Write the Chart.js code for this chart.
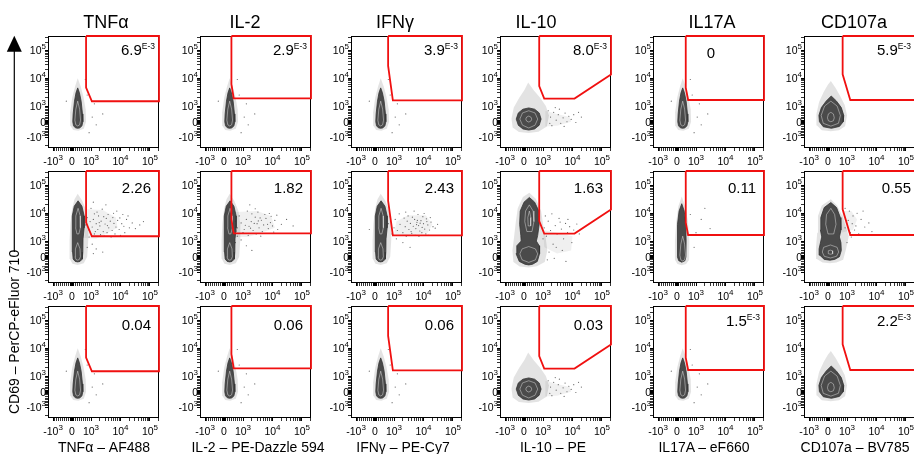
<!DOCTYPE html>
<html><head><meta charset="utf-8">
<script src="https://cdn.jsdelivr.net/npm/chart.js@4.4.1/dist/chart.umd.min.js"></script>
<style>
html,body{margin:0;padding:0;background:#fff;}
#wrap{position:relative;width:914px;height:454px;overflow:hidden;background:#fff;font-family:'Liberation Sans',Arial,sans-serif;}
#wrap canvas{position:absolute;}
#wrap svg{position:absolute;left:0;top:0;}
</style></head><body><div id="wrap"></div>
<script>
// ---------------- DATA ----------------
const COL_TITLES = ['TNFα', 'IL-2', 'IFNγ', 'IL-10', 'IL17A', 'CD107a'];
const X_TITLES = ['TNFα – AF488', 'IL-2 – PE-Dazzle 594', 'IFNγ – PE-Cy7', 'IL-10 – PE', 'IL17A – eF660', 'CD107a – BV785'];
const Y_TITLE = 'CD69 – PerCP-eFluor 710';

const TICK_VALUES = [-1000, 0, 1000, 10000, 100000];
const TICK_BASE = ['-10', '0', '10', '10', '10'];
const TICK_EXP = ['3', '', '3', '4', '5'];
const MINOR_DECADES = [10, 100, 1000, 10000, 100000];
const MINOR_MULT = [1, 2, 3, 4, 5, 6, 7, 8, 9];

// axis extents (fluorescence units) and linear-zone width (decades)
const X_AXIS = {min: -1480, max: 202000, lin: 0.644};
const Y_AXIS = {min: -2400, max: 330000, lin: 0.564};

// frequencies in gate (mantissa, exponent)
const PCT_ROW1 = ['6.9', '2.9', '3.9', '8.0', '0', '5.9'];
const EXP_ROW1 = ['E-3', 'E-3', 'E-3', 'E-3', '', 'E-3'];
const PCT_ROW2 = ['2.26', '1.82', '2.43', '1.63', '0.11', '0.55'];
const EXP_ROW2 = ['', '', '', '', '', ''];
const PCT_ROW3 = ['0.04', '0.06', '0.06', '0.03', '1.5', '2.2'];
const EXP_ROW3 = ['', '', '', '', 'E-3', 'E-3'];

// gates [x, y]
const gateTNFa = [[740, 330000], [740, 4650], [1070, 1490], [202000, 1490], [202000, 330000]];
const gateIL2 = [[390, 330000], [390, 6070], [510, 1900], [202000, 1900], [202000, 330000]];
const gateIFNg = [[690, 330000], [690, 27800], [940, 1610], [202000, 1610], [202000, 330000]];
const gateIL10 = [[800, 330000], [800, 5190], [1100, 1860], [11700, 1860], [202000, 13700], [202000, 330000]];
const gateIL17A = [[460, 330000], [460, 4620], [585, 1650], [202000, 1650], [202000, 330000]];
const gateCD107a = [[770, 330000], [770, 13900], [1290, 1650], [202000, 1650], [202000, 330000]];

// resting, narrow population
const narrowHalo = [[300, 10000], [460, 5000], [600, 2200], [720, 800], [740, 0], [620, -440], [330, -580], [60, -520], [-100, -220], [-100, 600], [10, 2000], [160, 5000]];
const narrowCore = [[300, 4500], [390, 3000], [480, 1500], [550, 500], [570, 0], [520, -260], [420, -390], [300, -420], [180, -390], [80, -260], [40, 0], [60, 500], [130, 1500], [210, 3000]];
const narrowRing = [[300, 1500], [400, 800], [450, 100], [400, -200], [300, -270], [200, -200], [150, 100], [200, 800]];
const narrowDots = [[1100, 300], [1500, -200], [2500, 500], [800, 2500], [900, -700], [-300, 1500], [1300, 1200], [700, 9000]];

// stimulated, tall population
const tallHalo = [[300, 50000], [540, 28000], [760, 12000], [860, 4000], [860, 1200], [800, 0], [620, -420], [300, -520], [20, -450], [-110, -150], [-130, 1000], [-90, 4000], [0, 14000], [130, 32000]];
const tallCore = [[320, 28000], [520, 18000], [640, 8000], [640, 3000], [580, 1200], [570, 300], [540, -150], [420, -300], [300, -330], [170, -300], [60, -150], [30, 300], [20, 1200], [0, 3000], [20, 8000], [120, 18000]];
const tallRingLow = [[300, 900], [420, 500], [440, 0], [380, -180], [300, -220], [210, -180], [160, 0], [180, 500]];
const tallRingUp = [[320, 15000], [430, 8000], [440, 3000], [360, 1800], [260, 1800], [190, 3000], [200, 8000]];
const tnfHaze = [[650, 1300], [1500, 1200], [3500, 1900], [8000, 3000], [7000, 7000], [2500, 13000], [800, 14000]];
const il2Haze = [[500, 1400], [1500, 1400], [5000, 2100], [12000, 3000], [9000, 8000], [3000, 12000], [600, 11000]];
const ifnHaze = [[1000, 1700], [4000, 1600], [14000, 2000], [20000, 4000], [12000, 8500], [3000, 8500], [1200, 5000]];
const tnfDots = [[900, 2500], [1100, 3200], [1300, 1800], [1500, 4200], [1200, 6000], [1700, 2600], [2000, 3500], [2200, 5200], [1800, 8000], [2600, 2200], [3000, 4100], [3300, 6500], [2800, 1500], [4000, 3000], [4500, 5200], [3800, 9000], [5200, 2400], [6000, 4300], [7000, 3200], [5500, 7000], [8000, 5500], [9000, 2600], [11000, 4200], [13000, 3400], [16000, 6000], [20000, 3000], [25000, 4500], [32000, 2800], [45000, 3800], [12000, 9000], [7500, 12000], [2400, 14000], [1600, 11000], [1000, 15000], [950, 5000], [1400, 2200], [2100, 1700], [3500, 2000], [1300, 9500], [2700, 7500], [4800, 1400], [6500, 1800], [10000, 1600], [1900, 4600], [3600, 3600], [900, 1400], [1100, 800], [1500, 500], [2500, 300], [800, 600], [1200, 200], [700, 3800], [800, 7000], [14000, 2000], [18000, 8000], [9500, 6800], [5800, 10000], [3200, 20000], [1200, 25000], [60000, 5000]];
const il2Dots = [[700, 3000], [900, 4500], [1100, 2600], [1300, 6000], [1600, 3400], [1900, 5000], [2200, 2400], [2600, 7200], [3000, 4200], [3500, 3000], [4200, 5600], [5000, 3800], [6000, 6500], [7200, 2800], [8500, 4600], [10000, 3500], [12000, 5500], [15000, 2600], [2000, 9500], [1400, 12000], [800, 8000], [3200, 11000], [5500, 9000], [1000, 2000], [1500, 1600], [2800, 1800], [4500, 2200], [700, 1500], [600, 5200], [1200, 3700], [2400, 4300], [3800, 6800], [6800, 4000], [9000, 7800], [20000, 4000], [30000, 6000], [50000, 3500], [1700, 20000], [900, 1100], [1300, 700], [2000, 400], [600, 900], [11000, 2100], [2600, 14500], [4000, 1500], [1800, 2900], [650, 2300], [3300, 5300], [7800, 9800], [14000, 8500]];
const ifnDots = [[1000, 3000], [1300, 2400], [1600, 4000], [2000, 2000], [2400, 3300], [2800, 5200], [3200, 2600], [3600, 4300], [4000, 1900], [4500, 3400], [5000, 6000], [5500, 2800], [6000, 4700], [6800, 3600], [7500, 2300], [8200, 5400], [9000, 3100], [10000, 4200], [11000, 2700], [12500, 6300], [14000, 3800], [16000, 2500], [18000, 4800], [21000, 3300], [25000, 2900], [3000, 8000], [6500, 9000], [9500, 7500], [4200, 7200], [2200, 6700], [1500, 9500], [5200, 1600], [7000, 1500], [12000, 1800], [3800, 2200], [5800, 3900], [8800, 2000], [13000, 5000], [2600, 1500], [1100, 6000], [900, 1800], [1200, 1200], [2000, 900], [3500, 600], [700, 4200], [800, 7500], [17000, 7000], [30000, 4000], [-300, 2600], [4800, 12000], [2500, 11000], [10500, 9800], [6200, 5500], [15000, 1600], [7700, 4400]];

// IL17A stimulated
const il17TallHalo = [[250, 40000], [430, 18000], [580, 5000], [650, 1000], [640, -200], [480, -470], [250, -540], [20, -470], [-110, -200], [-110, 1000], [-40, 5000], [70, 18000]];
const il17TallCore = [[250, 22000], [380, 12000], [460, 4000], [480, 1000], [470, 0], [420, -250], [250, -350], [90, -250], [20, 0], [10, 1000], [40, 4000], [110, 12000]];
const il17Dots = [[1000, 2000], [1500, 6000], [3000, 2800], [700, 9000], [2000, 15000], [900, 600]];

// IL-10 round population
const il10Halo = [[220, 7000], [500, 3800], [850, 2000], [1250, 1000], [1600, 400], [1350, -300], [760, -640], [250, -720], [-270, -660], [-600, -360], [-660, 200], [-540, 900], [-250, 2000], [20, 3800]];
const il10Core = [[250, 880], [560, 800], [800, 560], [900, 170], [800, -220], [560, -460], [250, -530], [-60, -460], [-300, -220], [-410, 170], [-300, 560], [-60, 800]];
const il10Ring1 = [[250, 700], [580, 560], [720, 170], [580, -220], [250, -400], [-80, -220], [-220, 170], [-80, 560]];
const il10Ring2 = [[250, 360], [360, 300], [410, 170], [360, 40], [250, -20], [140, 40], [90, 170], [140, 300]];
const il10TailHaze = [[1200, 700], [3000, 500], [8000, 300], [9000, 0], [3000, -250], [1200, -300]];
const il10TailDots = [[1800, 300], [2300, 600], [2800, 100], [3300, 450], [4000, -100], [4800, 250], [5600, 550], [6500, 0], [7500, 350], [9000, 150], [11000, 450], [13000, -50], [2000, -250], [2600, 900], [3600, 800], [1500, 700], [1700, -100], [5200, -300], [20000, 300], [16000, 600]];

// IL-10 stimulated (two lobes)
const il10StimHalo = [[280, 55000], [620, 33000], [900, 12000], [1050, 3000], [1250, 1200], [1400, 400], [1150, -330], [680, -600], [250, -680], [-230, -620], [-560, -340], [-610, 400], [-520, 1500], [-430, 5000], [-330, 15000], [-60, 38000]];
const il10StimCore = [[280, 37000], [560, 25000], [780, 12000], [800, 4000], [720, 1600], [650, 1000], [800, 700], [820, 200], [700, -300], [450, -480], [250, -520], [50, -480], [-250, -300], [-420, 200], [-380, 700], [-150, 1000], [-170, 1600], [-230, 4000], [-200, 12000], [0, 25000]];
const il10StimRingLow = [[250, 650], [600, 500], [720, 180], [600, -200], [250, -360], [-100, -200], [-220, 180], [-100, 500]];
const il10StimRingUp = [[280, 20000], [480, 12000], [520, 5000], [420, 2200], [150, 2200], [40, 5000], [80, 12000]];
const il10StimRingIn = [[280, 12000], [360, 7000], [350, 3500], [220, 3500], [200, 7000]];
const il10StimHaze = [[1000, 2500], [3000, 2000], [10000, 1500], [9000, 400], [3000, 200], [1100, 600]];
const il10Dots = [[1100, 3000], [1300, 1500], [1500, 5200], [1800, 2400], [2200, 800], [2600, 3600], [3000, 1800], [3500, 6500], [4200, 2700], [5000, 1200], [5800, 4300], [6800, 2000], [8000, 3300], [9500, 900], [11000, 2500], [14000, 4100], [1200, 8000], [2000, 9500], [2800, 600], [4500, 400], [7000, 6000], [1600, 300], [1000, 1200], [3800, 4800], [17000, 1800], [1400, -200], [2400, -100], [6000, -300]];

// CD107a round population
const cdHalo = [[150, 8000], [400, 4500], [640, 2300], [880, 1100], [1000, 400], [900, -280], [580, -540], [150, -600], [-330, -540], [-580, -240], [-610, 500], [-470, 1400], [-230, 3200], [0, 6000]];
const cdCore = [[170, 2300], [450, 1500], [700, 900], [830, 400], [800, 0], [600, -300], [180, -420], [-250, -320], [-450, 0], [-480, 400], [-350, 900], [-100, 1500]];
const cdRing1 = [[150, 1500], [480, 1000], [650, 400], [550, -100], [150, -280], [-250, -100], [-360, 400], [-180, 1000]];
const cdRing2 = [[150, 600], [280, 500], [330, 250], [280, 60], [150, 0], [20, 60], [-30, 250], [20, 500]];

// CD107a stimulated (two lobes)
const cdStimHalo = [[150, 32000], [480, 19000], [760, 8000], [950, 3000], [1150, 1500], [950, 500], [800, -200], [440, -370], [100, -410], [-290, -370], [-590, -150], [-630, 600], [-570, 2000], [-530, 8000], [-330, 19000]];
const cdStimCore = [[150, 24300], [450, 16000], [650, 7000], [680, 2500], [600, 1400], [680, 900], [700, 400], [600, 0], [350, -170], [100, -220], [-200, -170], [-430, 100], [-470, 500], [-380, 1000], [-330, 1400], [-400, 2500], [-380, 7000], [-200, 16000]];
const cdStimRingLow = [[130, 750], [480, 600], [560, 300], [450, 30], [130, -80], [-200, 30], [-300, 300], [-230, 600]];
const cdStimRingIn = [[130, 420], [230, 380], [260, 280], [230, 190], [130, 160], [30, 190], [0, 280], [30, 380]];
const cdStimRingUp = [[150, 15000], [350, 9000], [420, 4000], [300, 1800], [0, 1800], [-120, 4000], [-80, 9000]];
const cdStimHaze = [[700, 2000], [1600, 2500], [2200, 6000], [1400, 12000], [750, 12000]];
const cdStimDots = [[900, 3000], [1100, 5500], [1300, 2000], [1600, 8000], [2000, 3500], [1200, 12000], [2500, 1800], [3000, 6000], [1800, 2500], [4000, 3200], [900, 15000], [1400, 1400], [5500, 4500], [2200, 10000], [7000, 2200], [1000, 900], [3500, 12000], [1500, 4200]];

// ---------------- LAYOUT ----------------
const PLOT_LEFT = [48, 200, 351, 500, 653, 804];
const PLOT_TOP = [36, 171, 306];
const PW = 111, PH = 112, AX_W = 40, AX_H = 26, PAD = 4;
const TITLE_X = [106, 245, 395, 536, 712, 854];
const XTITLE_X = [104, 258, 403, 553, 704, 855];
const PCT_INSET = [[4, 4, 4, 4, 49, 4], [8, 8, 8, 8, 8, 4], [8, 8, 8, 8, 4, 4]];
const PCT_BASE = [[18.5, 18.5, 18.5, 18.5, 22, 18.5], [22, 22, 22, 22, 22, 22], [23.5, 23.5, 23.5, 23.5, 20, 20]];

// ---------------- SCALE ----------------
class BiexScale extends Chart.LinearScale {
  params() { return this.axis === 'x' ? X_AXIS : Y_AXIS; }
  tf(v) {
    const L = this.params().lin, a = Math.abs(v);
    const t = a <= 1000 ? a / 1000 * L : L + Math.log10(a / 1000);
    return v < 0 ? -t : t;
  }
  itf(t) {
    const L = this.params().lin, a = Math.abs(t);
    const v = a <= L ? a / L * 1000 : 1000 * Math.pow(10, a - L);
    return t < 0 ? -v : v;
  }
  determineDataLimits() { const p = this.params(); this.min = p.min; this.max = p.max; }
  buildTicks() {
    const list = [];
    TICK_VALUES.forEach(v => list.push({value: v, major: true}));
    MINOR_DECADES.forEach(d => MINOR_MULT.forEach(m => {
      [m * d, -m * d].forEach(v => {
        if (TICK_VALUES.indexOf(v) < 0 && v > this.min && v < this.max) list.push({value: v, major: false});
      });
    }));
    list.sort((a, b) => a.value - b.value);
    return list;
  }
  configure() { super.configure(); this._t0 = this.tf(this.min); this._t1 = this.tf(this.max); }
  getPixelForValue(v) { return this.getPixelForDecimal((this.tf(v) - this._t0) / (this._t1 - this._t0)); }
  getValueForPixel(p) { return this.itf(this._t0 + this.getDecimalForPixel(p) * (this._t1 - this._t0)); }
}
BiexScale.id = 'biex';
BiexScale.defaults = {};
Chart.register(BiexScale);

const FONT = "'Liberation Sans', Arial, sans-serif";

const panelPlugin = {
  id: 'panel',
  beforeDatasetsDraw(chart) {
    const {ctx, chartArea: a} = chart;
    ctx.save();
    ctx.strokeStyle = '#000'; ctx.lineWidth = 1;
    ctx.strokeRect(a.left + 0.5, a.top + 0.5, a.right - a.left - 1, a.bottom - a.top - 1);
    ctx.restore();
  },
  afterDraw(chart, args, opts) {
    const {ctx, chartArea: a} = chart;
    const xs = chart.scales.x, ys = chart.scales.y;
    ctx.save();
    ctx.fillStyle = '#000';
    ctx.textBaseline = 'alphabetic';
    ctx.textAlign = 'left';
    TICK_VALUES.forEach((v, i) => {
      const base = TICK_BASE[i], exp = TICK_EXP[i];
      ctx.font = '10.5px ' + FONT; const wb = ctx.measureText(base).width;
      ctx.font = '8px ' + FONT; const we = exp ? ctx.measureText(exp).width : 0;
      const py = ys.getPixelForValue(v);
      const r = a.left - 2;
      ctx.font = '10.5px ' + FONT; ctx.fillText(base, r - wb - we, py + 3.8);
      if (exp) { ctx.font = '8px ' + FONT; ctx.fillText(exp, r - we, py - 1.5); }
      const px = xs.getPixelForValue(v);
      const x0 = px - (wb + we) / 2;
      const by = a.bottom + 16.7;
      ctx.font = '10.5px ' + FONT; ctx.fillText(base, x0, by);
      if (exp) { ctx.font = '8px ' + FONT; ctx.fillText(exp, x0 + wb, by - 5.2); }
    });
    const m = opts.pct, e = opts.exp;
    const right = a.right - opts.inset;
    ctx.font = '8.5px ' + FONT; const we = e ? ctx.measureText(e).width : 0;
    ctx.font = '15px ' + FONT; const wm = ctx.measureText(m).width;
    ctx.fillText(m, right - we - wm, a.top + opts.base);
    if (e) { ctx.font = '8.5px ' + FONT; ctx.fillText(e, right - we, a.top + opts.base - 5.7); }
    ctx.restore();
  }
};

function closeLoop(arr) { return arr.concat([arr[0]]); }
function polyDs(data, fillColor, lineColor, lw, order) {
  return {data: closeLoop(data), showLine: true, fill: fillColor ? 'shape' : false,
    backgroundColor: fillColor || 'rgba(0,0,0,0)', borderColor: lineColor, borderWidth: lw,
    pointRadius: 0, tension: 0, order: order};
}
function dotDs(data) {
  return {data: data, showLine: false, pointRadius: 0.6, pointBorderWidth: 0,
    pointBackgroundColor: 'rgba(50,50,50,0.75)', backgroundColor: 'rgba(50,50,50,0.75)', order: 2};
}

const HALO = 'rgba(0,0,0,0.11)', HAZE = 'rgba(0,0,0,0.06)', CORE = '#4a4a4a', CORE_LINE = '#333', RING = 'rgba(255,255,255,0.5)';
function popNarrow() { return {halo: narrowHalo, core: narrowCore, rings: [narrowRing], dots: narrowDots, haze: null}; }
function popIL10() { return {halo: il10Halo, core: il10Core, rings: [il10Ring1, il10Ring2], dots: il10TailDots, haze: il10TailHaze}; }
function popCD() { return {halo: cdHalo, core: cdCore, rings: [cdRing1, cdRing2], dots: [], haze: null}; }

const ROWS = [
  [popNarrow(), popNarrow(), popNarrow(), popIL10(), popNarrow(), popCD()],
  [
    {halo: tallHalo, core: tallCore, rings: [tallRingLow, tallRingUp], dots: tnfDots, haze: tnfHaze},
    {halo: tallHalo, core: tallCore, rings: [tallRingLow, tallRingUp], dots: il2Dots, haze: il2Haze},
    {halo: tallHalo, core: tallCore, rings: [tallRingLow, tallRingUp], dots: ifnDots, haze: ifnHaze},
    {halo: il10StimHalo, core: il10StimCore, rings: [il10StimRingLow, il10StimRingUp, il10StimRingIn], dots: il10Dots, haze: il10StimHaze},
    {halo: il17TallHalo, core: il17TallCore, rings: [narrowRing], dots: il17Dots, haze: null},
    {halo: cdStimHalo, core: cdStimCore, rings: [cdStimRingLow, cdStimRingIn, cdStimRingUp], dots: cdStimDots, haze: cdStimHaze}
  ],
  [popNarrow(), popNarrow(), popNarrow(), popIL10(), popNarrow(), popCD()]
];
const GATES = [gateTNFa, gateIL2, gateIFNg, gateIL10, gateIL17A, gateCD107a];
const PCTS = [PCT_ROW1, PCT_ROW2, PCT_ROW3];
const EXPS = [EXP_ROW1, EXP_ROW2, EXP_ROW3];

const wrap = document.getElementById('wrap');

function axisOpts(isX) {
  return {
    type: 'biex', position: isX ? 'bottom' : 'left',
    grid: {display: true, drawOnChartArea: false, drawTicks: true, tickLength: 3, tickColor: '#000',
      tickWidth: ctx => (ctx.tick && ctx.tick.major) ? 1 : 0.8},
    border: {display: false},
    ticks: {display: false},
    afterFit: s => { if (isX) s.height = AX_H; else s.width = AX_W; }
  };
}

for (let r = 0; r < 3; r++) {
  for (let c = 0; c < 6; c++) {
    const cv = document.createElement('canvas');
    cv.width = AX_W + PW + PAD; cv.height = PAD + PH + AX_H;
    cv.style.left = (PLOT_LEFT[c] - AX_W) + 'px';
    cv.style.top = (PLOT_TOP[r] - PAD) + 'px';
    cv.style.width = cv.width + 'px'; cv.style.height = cv.height + 'px';
    wrap.appendChild(cv);
    const pop = ROWS[r][c];
    const ds = [];
    ds.push(Object.assign(polyDs(GATES[c], null, '#f01010', 1.8, 0), {clip: false}));
    ds.push(dotDs(pop.dots));
    pop.rings.forEach(rg => ds.push(polyDs(rg, null, RING, 0.8, 3)));
    ds.push(polyDs(pop.core, CORE, CORE_LINE, 0.8, 4));
    ds.push(polyDs(pop.halo, HALO, 'rgba(0,0,0,0)', 0, 5));
    if (pop.haze) ds.push(polyDs(pop.haze, HAZE, 'rgba(0,0,0,0)', 0, 6));
    new Chart(cv, {
      type: 'scatter',
      data: {datasets: ds},
      options: {
        responsive: false, animation: false, devicePixelRatio: 1, events: [],
        layout: {padding: {top: PAD, right: PAD, left: 0, bottom: 0}},
        plugins: {legend: {display: false}, tooltip: {enabled: false},
          panel: {pct: PCTS[r][c], exp: EXPS[r][c], inset: PCT_INSET[r][c], base: PCT_BASE[r][c]}},
        scales: {x: axisOpts(true), y: axisOpts(false)}
      },
      plugins: [panelPlugin]
    });
  }
}

// global texts and arrow
const NS = 'http://www.w3.org/2000/svg';
const svg = document.createElementNS(NS, 'svg');
svg.setAttribute('width', 914); svg.setAttribute('height', 454);
function addText(txt, x, y, size, anchor, transform) {
  const t = document.createElementNS(NS, 'text');
  t.textContent = txt;
  t.setAttribute('x', x); t.setAttribute('y', y);
  t.setAttribute('font-size', size); t.setAttribute('font-family', "Liberation Sans, Arial, sans-serif");
  t.setAttribute('text-anchor', anchor); t.setAttribute('fill', '#000');
  if (transform) t.setAttribute('transform', transform);
  svg.appendChild(t);
}
COL_TITLES.forEach((s, i) => addText(s, TITLE_X[i], 28.3, 18, 'middle'));
X_TITLES.forEach((s, i) => addText(s, XTITLE_X[i], 451.5, 14, 'middle'));
addText(Y_TITLE, 0, 0, 14, 'start', 'translate(19.3,414) rotate(-90)');
const line = document.createElementNS(NS, 'line');
line.setAttribute('x1', 14.3); line.setAttribute('x2', 14.3); line.setAttribute('y1', 50); line.setAttribute('y2', 252);
line.setAttribute('stroke', '#000'); line.setAttribute('stroke-width', 1.2);
svg.appendChild(line);
const tri = document.createElementNS(NS, 'polygon');
tri.setAttribute('points', '14.3,35.7 6.8,51.7 21.8,51.7');
tri.setAttribute('fill', '#000');
svg.appendChild(tri);
wrap.appendChild(svg);
</script></body></html>
